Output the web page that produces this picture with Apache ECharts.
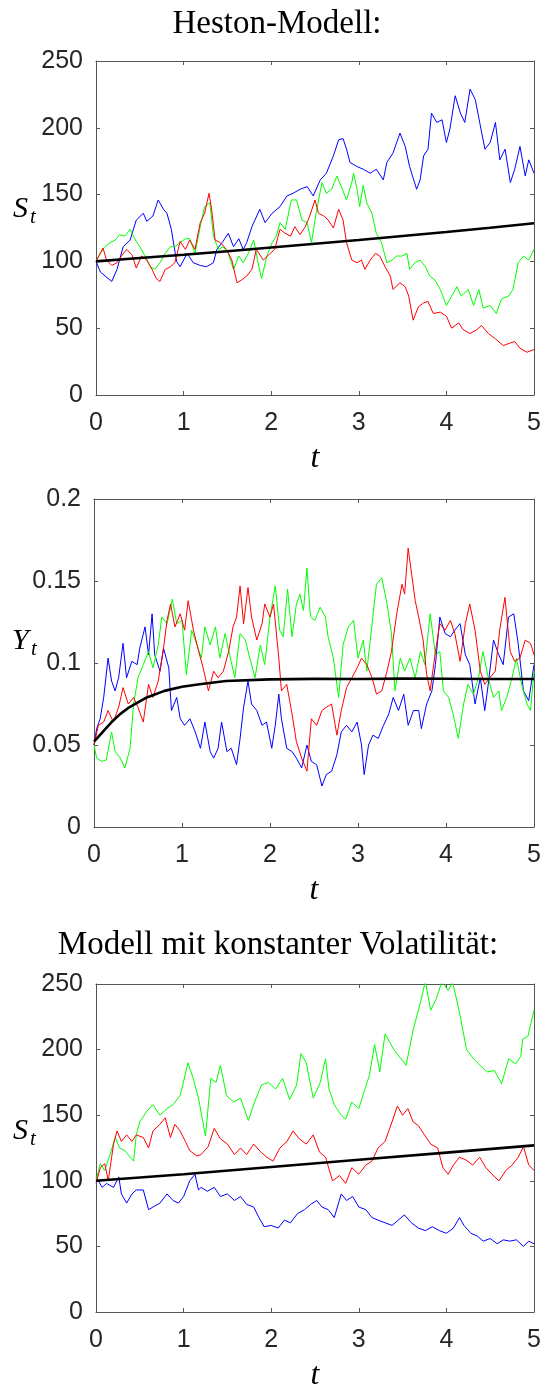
<!DOCTYPE html>
<html><head><meta charset="utf-8">
<script src="https://cdn.jsdelivr.net/npm/echarts@6/dist/echarts.min.js"></script>
<style>html,body{margin:0;padding:0;background:#fff}#c{width:546px;height:1393px}</style>
</head><body><div id="c"></div><script>
// ---------- Panel 1: Heston model, S_t ----------
const hestonS_blue = [[0,100],[0.05,92],[0.18,85],[0.24,94],[0.31,111],[0.39,116],[0.46,131],[0.54,136],[0.58,130],[0.65,134],[0.71,146],[0.77,139],[0.81,136],[0.86,124],[0.92,100],[0.96,96],[1.04,106],[1.11,99],[1.19,97],[1.26,96],[1.34,99],[1.38,109],[1.45,115],[1.51,121],[1.57,111],[1.63,117],[1.68,109],[1.72,114],[1.78,126],[1.87,139],[1.93,129],[2.01,136],[2.10,141],[2.18,149],[2.25,151],[2.33,154],[2.41,156],[2.48,149],[2.56,161],[2.63,166],[2.71,179],[2.77,191],[2.82,192],[2.86,184],[2.90,174],[2.98,171],[3.05,169],[3.13,166],[3.20,169],[3.28,161],[3.32,174],[3.39,181],[3.47,196],[3.53,186],[3.58,171],[3.66,154],[3.70,161],[3.74,179],[3.79,184],[3.83,211],[3.89,204],[3.95,206],[4.00,189],[4.04,199],[4.10,224],[4.16,211],[4.21,204],[4.27,229],[4.33,221],[4.38,204],[4.44,184],[4.50,189],[4.56,204],[4.61,176],[4.67,184],[4.73,159],[4.78,169],[4.84,186],[4.90,164],[4.94,176],[5.0,166]];
const hestonS_red = [[0,100],[0.08,110],[0.12,101],[0.18,97],[0.24,99],[0.29,104],[0.35,109],[0.41,105],[0.46,95],[0.52,104],[0.58,101],[0.64,94],[0.69,87],[0.73,85],[0.79,94],[0.85,96],[0.90,99],[0.96,115],[1.02,109],[1.07,116],[1.13,109],[1.19,129],[1.24,136],[1.29,151],[1.32,139],[1.36,116],[1.42,114],[1.49,109],[1.55,101],[1.61,84],[1.66,86],[1.72,89],[1.78,94],[1.83,109],[1.91,101],[1.99,106],[2.04,109],[2.10,124],[2.16,121],[2.22,119],[2.27,126],[2.33,120],[2.39,126],[2.44,134],[2.50,146],[2.54,136],[2.60,134],[2.65,131],[2.71,125],[2.77,139],[2.82,131],[2.86,114],[2.92,101],[2.98,99],[3.03,101],[3.07,94],[3.13,101],[3.19,106],[3.24,104],[3.30,96],[3.36,89],[3.39,79],[3.47,84],[3.53,81],[3.57,74],[3.62,56],[3.68,66],[3.74,69],[3.79,70],[3.85,61],[3.93,62],[4.00,59],[4.06,50],[4.14,54],[4.19,49],[4.27,46],[4.35,49],[4.40,52],[4.48,46],[4.56,42],[4.65,37],[4.73,39],[4.78,40],[4.84,35],[4.92,32],[5.0,34]];
const hestonS_green = [[0,100],[0.05,106],[0.10,111],[0.16,114],[0.22,116],[0.27,120],[0.33,119],[0.39,124],[0.45,116],[0.50,111],[0.56,104],[0.62,96],[0.67,94],[0.73,99],[0.79,106],[0.85,111],[0.90,111],[0.96,114],[1.02,117],[1.07,117],[1.13,106],[1.19,126],[1.24,141],[1.30,144],[1.34,119],[1.40,109],[1.45,111],[1.51,106],[1.57,94],[1.63,104],[1.68,99],[1.74,106],[1.80,116],[1.85,99],[1.89,87],[1.95,104],[2.01,114],[2.06,119],[2.10,129],[2.16,124],[2.23,146],[2.29,146],[2.35,131],[2.41,129],[2.46,114],[2.52,139],[2.58,159],[2.63,151],[2.69,154],[2.75,164],[2.80,156],[2.86,146],[2.92,159],[2.94,166],[2.98,154],[3.01,141],[3.05,157],[3.09,144],[3.15,136],[3.20,121],[3.26,114],[3.32,99],[3.38,101],[3.43,104],[3.49,104],[3.55,106],[3.58,94],[3.64,99],[3.70,101],[3.76,96],[3.81,89],[3.87,86],[3.93,79],[4.00,67],[4.06,74],[4.12,81],[4.17,74],[4.25,79],[4.31,67],[4.37,79],[4.42,65],[4.50,67],[4.57,61],[4.63,72],[4.71,74],[4.76,79],[4.82,99],[4.88,104],[4.94,101],[5.0,109]];
const hestonS_mean = [[0,100],[0.5,102.5],[1,105],[1.5,107.6],[2,110.4],[2.5,113.2],[3,116],[3.5,119],[4,122],[4.5,125.2],[5,128.5]];

// ---------- Panel 2: Heston model, Y_t ----------
const hestonY_blue = [[0,0.050],[0.03,0.060],[0.07,0.066],[0.11,0.079],[0.16,0.103],[0.20,0.089],[0.24,0.083],[0.28,0.091],[0.33,0.112],[0.37,0.091],[0.43,0.101],[0.49,0.099],[0.52,0.109],[0.58,0.122],[0.62,0.105],[0.66,0.130],[0.69,0.105],[0.75,0.095],[0.79,0.109],[0.85,0.097],[0.88,0.071],[0.94,0.079],[0.98,0.066],[1.03,0.062],[1.09,0.066],[1.15,0.058],[1.21,0.048],[1.26,0.064],[1.32,0.046],[1.36,0.042],[1.41,0.048],[1.45,0.064],[1.51,0.046],[1.56,0.048],[1.62,0.038],[1.66,0.054],[1.70,0.073],[1.75,0.089],[1.79,0.075],[1.85,0.071],[1.91,0.062],[1.96,0.064],[2.02,0.048],[2.06,0.062],[2.10,0.081],[2.13,0.066],[2.19,0.048],[2.25,0.046],[2.30,0.042],[2.36,0.036],[2.42,0.050],[2.47,0.040],[2.53,0.038],[2.59,0.025],[2.64,0.032],[2.70,0.034],[2.76,0.044],[2.81,0.058],[2.87,0.062],[2.93,0.058],[2.99,0.064],[3.04,0.050],[3.07,0.032],[3.12,0.050],[3.17,0.056],[3.23,0.054],[3.29,0.062],[3.35,0.069],[3.40,0.079],[3.46,0.071],[3.52,0.081],[3.57,0.062],[3.63,0.071],[3.69,0.071],[3.72,0.060],[3.78,0.075],[3.84,0.083],[3.88,0.099],[3.93,0.128],[3.99,0.118],[4.05,0.116],[4.10,0.120],[4.16,0.124],[4.22,0.105],[4.27,0.099],[4.33,0.075],[4.39,0.091],[4.44,0.071],[4.48,0.087],[4.54,0.114],[4.60,0.105],[4.65,0.099],[4.71,0.128],[4.77,0.130],[4.82,0.112],[4.88,0.083],[4.94,0.077],[5.0,0.099]];
const hestonY_red = [[0,0.050],[0.05,0.062],[0.11,0.064],[0.16,0.071],[0.22,0.064],[0.28,0.073],[0.33,0.085],[0.39,0.075],[0.45,0.079],[0.50,0.073],[0.56,0.064],[0.62,0.087],[0.67,0.079],[0.73,0.089],[0.79,0.109],[0.83,0.126],[0.87,0.136],[0.92,0.122],[0.98,0.130],[1.03,0.120],[1.07,0.138],[1.13,0.120],[1.19,0.107],[1.24,0.097],[1.30,0.083],[1.36,0.095],[1.41,0.091],[1.47,0.095],[1.53,0.107],[1.58,0.122],[1.62,0.128],[1.66,0.147],[1.70,0.124],[1.75,0.146],[1.79,0.128],[1.85,0.114],[1.91,0.124],[1.94,0.136],[2.00,0.128],[2.04,0.136],[2.10,0.103],[2.13,0.083],[2.19,0.087],[2.25,0.069],[2.30,0.052],[2.36,0.042],[2.42,0.034],[2.47,0.066],[2.53,0.062],[2.59,0.071],[2.64,0.073],[2.70,0.075],[2.76,0.056],[2.81,0.071],[2.87,0.085],[2.93,0.091],[2.99,0.097],[3.04,0.103],[3.10,0.099],[3.16,0.091],[3.21,0.081],[3.27,0.083],[3.33,0.095],[3.38,0.107],[3.44,0.130],[3.50,0.148],[3.53,0.142],[3.57,0.170],[3.61,0.154],[3.65,0.138],[3.69,0.128],[3.74,0.114],[3.78,0.093],[3.82,0.083],[3.88,0.107],[3.93,0.124],[3.99,0.120],[4.05,0.126],[4.10,0.118],[4.16,0.101],[4.22,0.124],[4.27,0.136],[4.33,0.120],[4.39,0.095],[4.44,0.087],[4.50,0.091],[4.56,0.095],[4.61,0.120],[4.67,0.140],[4.73,0.107],[4.78,0.101],[4.84,0.103],[4.90,0.114],[4.96,0.112],[5.0,0.105]];
const hestonY_green = [[0,0.050],[0.03,0.042],[0.09,0.040],[0.14,0.041],[0.20,0.058],[0.24,0.046],[0.30,0.042],[0.35,0.036],[0.41,0.048],[0.45,0.075],[0.50,0.091],[0.56,0.099],[0.62,0.107],[0.67,0.097],[0.73,0.111],[0.77,0.128],[0.83,0.124],[0.89,0.139],[0.94,0.124],[1.00,0.126],[1.05,0.093],[1.11,0.120],[1.17,0.111],[1.22,0.103],[1.26,0.122],[1.32,0.111],[1.38,0.122],[1.43,0.103],[1.49,0.118],[1.55,0.103],[1.60,0.091],[1.66,0.118],[1.72,0.114],[1.77,0.103],[1.83,0.091],[1.89,0.111],[1.94,0.099],[2.00,0.128],[2.06,0.147],[2.11,0.120],[2.15,0.116],[2.20,0.145],[2.25,0.116],[2.30,0.136],[2.34,0.142],[2.38,0.132],[2.42,0.158],[2.46,0.128],[2.51,0.126],[2.57,0.134],[2.63,0.128],[2.66,0.116],[2.72,0.103],[2.78,0.079],[2.83,0.111],[2.89,0.122],[2.95,0.126],[3.00,0.103],[3.06,0.114],[3.10,0.095],[3.16,0.124],[3.21,0.148],[3.27,0.152],[3.33,0.136],[3.38,0.118],[3.42,0.083],[3.48,0.103],[3.53,0.095],[3.59,0.103],[3.65,0.091],[3.71,0.107],[3.76,0.099],[3.82,0.130],[3.88,0.105],[3.93,0.107],[3.97,0.083],[4.03,0.079],[4.08,0.069],[4.14,0.054],[4.20,0.075],[4.25,0.087],[4.31,0.081],[4.37,0.091],[4.42,0.107],[4.48,0.091],[4.54,0.079],[4.60,0.083],[4.63,0.071],[4.69,0.079],[4.75,0.091],[4.80,0.103],[4.86,0.087],[4.92,0.075],[4.96,0.071],[5.0,0.095]];
const hestonY_mean = [[0,0.052],[0.1,0.058],[0.2,0.064],[0.3,0.069],[0.4,0.073],[0.5,0.076],[0.6,0.079],[0.8,0.083],[1.0,0.0855],[1.2,0.087],[1.5,0.089],[2,0.090],[2.5,0.0903],[3,0.0902],[3.5,0.0905],[4,0.0904],[4.5,0.0902],[5,0.0902]];

// ---------- Panel 3: constant volatility, S_t ----------
const constS_blue = [[0,103],[0.07,95],[0.12,98],[0.20,95],[0.26,103],[0.29,90],[0.35,83],[0.41,90],[0.46,93],[0.54,93],[0.60,78],[0.65,80],[0.73,83],[0.81,90],[0.88,85],[0.94,83],[1.00,88],[1.07,100],[1.13,105],[1.17,93],[1.2,95],[1.27,92],[1.35,95],[1.42,88],[1.5,90],[1.58,85],[1.65,88],[1.72,82],[1.8,80],[1.86,72],[1.92,65],[2.0,66],[2.08,64],[2.15,70],[2.22,68],[2.3,75],[2.38,78],[2.45,82],[2.52,85],[2.58,80],[2.65,78],[2.72,72],[2.8,90],[2.86,85],[2.93,88],[3.0,80],[3.08,78],[3.15,72],[3.22,70],[3.3,68],[3.38,66],[3.45,70],[3.52,74],[3.6,68],[3.68,64],[3.76,62],[3.84,65],[3.92,62],[4.0,60],[4.08,64],[4.15,72],[4.2,66],[4.28,60],[4.35,58],[4.42,54],[4.5,56],[4.58,52],[4.65,55],[4.72,54],[4.8,55],[4.88,50],[4.94,54],[5.0,52]];
const constS_red = [[0,98],[0.05,110],[0.10,113],[0.14,100],[0.20,128],[0.24,138],[0.29,130],[0.35,135],[0.41,130],[0.46,135],[0.54,133],[0.60,125],[0.65,138],[0.73,143],[0.79,148],[0.85,133],[0.90,143],[0.96,138],[1.02,130],[1.07,123],[1.15,119],[1.2,120],[1.28,126],[1.35,140],[1.42,132],[1.5,128],[1.58,120],[1.65,125],[1.72,120],[1.8,128],[1.88,122],[1.95,118],[2.02,115],[2.1,125],[2.18,130],[2.25,138],[2.32,132],[2.4,128],[2.48,135],[2.55,122],[2.62,118],[2.7,100],[2.78,104],[2.85,98],[2.92,110],[3.0,105],[3.08,112],[3.15,115],[3.22,125],[3.3,130],[3.38,145],[3.44,157],[3.5,150],[3.56,155],[3.62,145],[3.68,142],[3.75,135],[3.82,128],[3.9,125],[3.96,110],[4.02,105],[4.08,112],[4.15,118],[4.22,116],[4.3,112],[4.38,118],[4.45,110],[4.52,105],[4.6,100],[4.68,108],[4.75,112],[4.82,118],[4.88,126],[4.94,112],[5.0,108]];
const constS_green = [[0,100],[0.05,113],[0.10,108],[0.16,120],[0.22,133],[0.27,125],[0.33,123],[0.39,118],[0.43,115],[0.46,135],[0.50,145],[0.58,153],[0.65,158],[0.73,150],[0.81,155],[0.88,158],[0.96,165],[0.99,173],[1.05,190],[1.11,178],[1.17,163],[1.25,134],[1.31,178],[1.37,175],[1.42,188],[1.49,165],[1.57,160],[1.65,163],[1.74,146],[1.81,160],[1.89,173],[1.97,175],[2.05,170],[2.13,178],[2.21,162],[2.29,173],[2.34,197],[2.40,190],[2.48,163],[2.56,175],[2.62,193],[2.66,170],[2.72,158],[2.80,150],[2.85,147],[2.92,160],[3.00,155],[3.06,168],[3.12,180],[3.18,204],[3.24,183],[3.30,212],[3.40,200],[3.54,188],[3.62,215],[3.70,235],[3.76,252],[3.82,230],[3.88,238],[3.95,252],[4.02,245],[4.07,252],[4.15,228],[4.23,200],[4.31,193],[4.43,185],[4.47,183],[4.55,184],[4.63,174],[4.71,193],[4.79,189],[4.85,195],[4.87,208],[4.93,210],[5.0,230]];
const constS_mean = [[0,100],[1,105],[2,110.5],[3,116],[4,121.5],[5,127]];

const xTicks = [0,1,2,3,4,5];

const AX = '#555555';
const LBL = '#262626';
const SANS = 'Liberation Sans';
const SERIF = 'Liberation Serif';

const grids = [
  {left:96, top:61, width:438, height:334},
  {left:94, top:499, width:440, height:328},
  {left:96, top:984, width:438, height:334}
];
const yRanges = [[0,250,50],[0,0.2,0.05],[0,250,50]];

const xAxis = [], yAxis = [];
grids.forEach((g,i)=>{
  const common = {gridIndex:i, type:'value', splitLine:{show:false},
    axisLine:{show:true,onZero:false,lineStyle:{color:AX,width:1}},
    axisTick:{show:true,inside:true,length:4,lineStyle:{color:AX,width:1}}};
  xAxis.push(Object.assign({}, common, {position:'bottom', min:xTicks[0], max:xTicks[xTicks.length-1], interval:1,
    axisLabel:{fontSize:25, fontFamily:SANS, color:LBL, margin:16},
    name:'t', nameLocation:'middle', nameGap:48,
    nameTextStyle:{fontFamily:SERIF, fontStyle:'italic', fontSize:32, color:'#000'}}));
  xAxis.push(Object.assign({}, common, {position:'top', min:0, max:5, interval:1, axisLabel:{show:false}}));
  const r = yRanges[i];
  yAxis.push(Object.assign({}, common, {position:'left', min:r[0], max:r[1], interval:r[2],
    axisLabel:{fontSize:25, fontFamily:SANS, color:LBL, margin:13}}));
  yAxis.push(Object.assign({}, common, {position:'right', min:r[0], max:r[1], interval:r[2], axisLabel:{show:false}}));
});

function ln(data, color, gi, w){
  return {type:'line', data:data, xAxisIndex:2*gi, yAxisIndex:2*gi, showSymbol:false, symbol:'none',
    lineStyle:{color:color, width:w}, itemStyle:{color:color}, animation:false, silent:true, clip:true};
}
const series = [
  ln(hestonS_blue,'#0000ff',0,1), ln(hestonS_green,'#00ff00',0,1), ln(hestonS_red,'#ff0000',0,1), ln(hestonS_mean,'#000000',0,2.6),
  ln(hestonY_blue,'#0000ff',1,1), ln(hestonY_green,'#00ff00',1,1), ln(hestonY_red,'#ff0000',1,1), ln(hestonY_mean,'#000000',1,2.6),
  ln(constS_blue,'#0000ff',2,1), ln(constS_green,'#00ff00',2,1), ln(constS_red,'#ff0000',2,1), ln(constS_mean,'#000000',2,2.6)
];

function txt(s, x, y, font, align){
  return {type:'text', x:x, y:y, silent:true, style:{text:s, font:font, fill:'#000',
    textAlign:align||'left', textVerticalAlign:'middle', align:align||'left', verticalAlign:'middle'}};
}
const graphic = [
  txt('Heston-Modell:', 277, 24, '33px "Liberation Serif"', 'center'),
  txt('Modell mit konstanter Volatilität:', 278, 945, '33px "Liberation Serif"', 'center'),
  txt('S', 13, 209, 'italic 30px "Liberation Serif"'),
  txt('t', 30, 217, 'italic 21px "Liberation Serif"'),
  txt('Y', 12, 641, 'italic 30px "Liberation Serif"'),
  txt('t', 31, 649, 'italic 21px "Liberation Serif"'),
  txt('S', 13, 1131, 'italic 30px "Liberation Serif"'),
  txt('t', 30, 1139, 'italic 21px "Liberation Serif"')
];

const chart = echarts.init(document.getElementById('c'), null, {renderer:'canvas'});
chart.setOption({animation:false, backgroundColor:'#ffffff', grid:grids, xAxis:xAxis, yAxis:yAxis, series:series, graphic:graphic});
</script></body></html>
